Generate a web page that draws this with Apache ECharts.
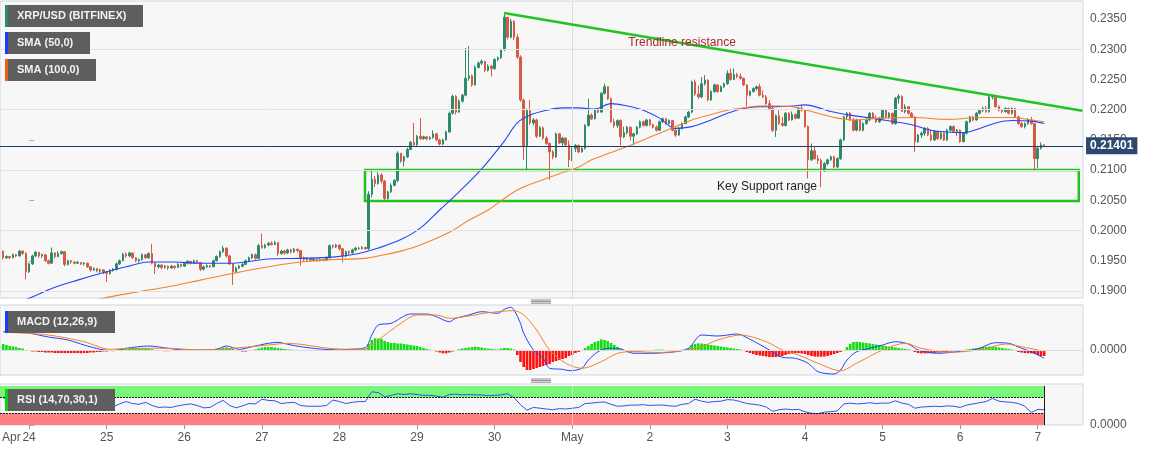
<!DOCTYPE html>
<html><head><meta charset="utf-8">
<script src="https://cdn.jsdelivr.net/npm/echarts@6/dist/echarts.min.js"></script>
<style>html,body{margin:0;padding:0;background:#fff}#c{width:1153px;height:452px}</style>
</head><body><div id="c"></div>
<script>
// ---------------- DATA (hourly XRP/USD, hour 0 = Apr 24 00:00) ----------------
const firstHour = -8;
const firstOpen = 0.1966;
const closes = [
 .1955,.1957,.1955,.1960,.1958,.1966,.1962,.1932,
 .1945,.1958,.1964,.1958,.1960,.1950,.1946,.1963,.1957,.1962,.1965,.1944,.1950,.1948,.1946,.1947,.1945,.1946,.1940,.1935,.1937,.1933,.1935,.1931,
 .1929,.1934,.1936,.1945,.1950,.1961,.1958,.1963,.1955,.1950,.1952,.1960,.1955,.1962,.1946,.1940,.1943,.1939,.1941,.1938,.1941,.1939,.1944,.1941,
 .1946,.1949,.1946,.1950,.1947,.1936,.1940,.1942,.1940,.1950,.1957,.1965,.1971,.1958,.1945,.1932,.1938,.1941,.1944,.1950,.1955,.1960,.1954,.1975,
 .1972,.1976,.1979,.1977,.1980,.1962,.1966,.1963,.1968,.1965,.1969,.1967,.1955,.1952,.1954,.1951,.1953,.1950,.1952,.1951,.1955,.1975,.1973,.1976,
 .1970,.1958,.1965,.1963,.1968,.1971,.1970,.1972,.1970,.2060,.2085,.2078,.2092,.2082,.2053,.2064,.2075,.2083,.2128,.2115,.2122,.2134,.2146,.2142,
 .2156,.2152,.2155,.2152,.2154,.2160,.2150,.2143,.2150,.2163,.2194,.2222,.2196,.2214,.2224,.2252,.2256,.2241,.2270,.2277,.2280,.2265,.2272,.2268,
 .2283,.2286,.2299,.2353,.2320,.2346,.2320,.2287,.2216,.2140,.2199,.2178,.2183,.2156,.2170,.2153,.2144,.2130,.2122,.2160,.2145,.2153,.2142,.2117,
 .2136,.2141,.2130,.2136,.2174,.2191,.2185,.2199,.2196,.2227,.2238,.2218,.2180,.2174,.2182,.2155,.2162,.2171,.2156,.2160,.2171,.2180,.2174,.2183,
 .2175,.2171,.2166,.2180,.2185,.2177,.2182,.2166,.2158,.2169,.2177,.2188,.2196,.2246,.2226,.2221,.2243,.2249,.2216,.2230,.2241,.2230,.2238,.2243,
 .2260,.2250,.2258,.2255,.2252,.2241,.2224,.2230,.2235,.2238,.2224,.2221,.2210,.2202,.2166,.2190,.2177,.2174,.2194,.2183,.2192,.2186,.2202,.2199,
 .2172,.2117,.2132,.2119,.2116,.2100,.2111,.2117,.2122,.2105,.2119,.2150,.2188,.2194,.2183,.2166,.2183,.2166,.2177,.2183,.2194,.2186,.2180,.2186,
 .2199,.2188,.2194,.2177,.2219,.2222,.2197,.2205,.2194,.2188,.2147,.2158,.2161,.2169,.2158,.2150,.2164,.2152,.2161,.2150,.2166,.2172,.2164,.2166,
 .2147,.2161,.2180,.2188,.2183,.2194,.2199,.2202,.2197,.2221,.2222,.2205,.2199,.2197,.2202,.2194,.2202,.2188,.2177,.2172,.2177,.2183,.2177,.2119,
 .2136,.2142,.2140
];
const highs = [
 .1967,.1959,.1958,.1962,.1961,.1968,.1967,.1964,
 .1947,.1960,.1966,.1965,.1962,.1961,.1952,.1972,.1964,.1966,.1967,.1966,.1952,.1951,.1949,.1950,.1948,.1948,.1947,.1941,.1939,.1938,.1937,.1936,
 .1933,.1936,.1938,.1947,.1952,.1963,.1964,.1965,.1963,.1956,.1954,.1962,.1961,.1964,.1978,.1948,.1945,.1944,.1943,.1942,.1943,.1942,.1946,.1945,
 .1948,.1951,.1950,.1952,.1951,.1948,.1942,.1944,.1943,.1952,.1959,.1967,.1975,.1972,.1960,.1946,.1940,.1943,.1946,.1952,.1957,.1962,.1962,.1978,
 .1995,.1978,.1981,.1982,.1983,.1981,.1968,.1968,.1970,.1970,.1971,.1970,.1968,.1957,.1956,.1955,.1955,.1954,.1954,.1953,.1957,.1977,.1977,.1978,
 .1977,.1971,.1967,.1967,.1970,.1973,.1973,.1974,.1973,.2065,.2100,.2090,.2097,.2095,.2084,.2066,.2078,.2085,.2131,.2127,.2124,.2137,.2148,.2178,
 .2158,.2186,.2157,.2156,.2156,.2166,.2162,.2152,.2152,.2165,.2197,.2225,.2224,.2217,.2226,.2302,.2305,.2258,.2273,.2280,.2283,.2281,.2275,.2274,
 .2285,.2288,.2301,.2358,.2352,.2350,.2348,.2325,.2290,.2218,.2202,.2216,.2186,.2185,.2173,.2172,.2156,.2146,.2133,.2162,.2161,.2155,.2154,.2149,
 .2138,.2143,.2142,.2138,.2176,.2218,.2194,.2201,.2200,.2229,.2243,.2239,.2220,.2185,.2184,.2184,.2172,.2173,.2172,.2162,.2173,.2182,.2182,.2185,
 .2185,.2177,.2174,.2182,.2187,.2186,.2184,.2183,.2170,.2171,.2179,.2190,.2198,.2248,.2250,.2240,.2254,.2257,.2250,.2232,.2243,.2241,.2240,.2245,
 .2265,.2268,.2268,.2261,.2260,.2253,.2242,.2232,.2237,.2240,.2243,.2232,.2224,.2216,.2207,.2192,.2199,.2188,.2196,.2196,.2197,.2194,.2204,.2208,
 .2201,.2174,.2144,.2139,.2125,.2119,.2113,.2119,.2124,.2124,.2121,.2152,.2190,.2196,.2196,.2186,.2185,.2183,.2179,.2185,.2196,.2196,.2191,.2188,
 .2201,.2200,.2196,.2195,.2221,.2226,.2224,.2209,.2206,.2196,.2190,.2160,.2164,.2171,.2171,.2167,.2166,.2165,.2163,.2162,.2168,.2174,.2174,.2168,
 .2167,.2163,.2182,.2190,.2190,.2196,.2201,.2205,.2206,.2224,.2225,.2223,.2207,.2201,.2204,.2203,.2204,.2203,.2190,.2180,.2179,.2186,.2188,.2178,
 .2140,.2146,.2142
];
const lows = [
 .1952,.1953,.1953,.1954,.1956,.1957,.1960,.1919,
 .1930,.1943,.1956,.1955,.1955,.1948,.1944,.1945,.1954,.1956,.1960,.1941,.1942,.1945,.1944,.1945,.1943,.1942,.1938,.1932,.1933,.1931,.1930,.1928,
 .1915,.1927,.1932,.1934,.1943,.1949,.1955,.1956,.1953,.1948,.1947,.1950,.1953,.1953,.1944,.1928,.1937,.1936,.1937,.1935,.1937,.1936,.1938,.1939,
 .1940,.1944,.1944,.1945,.1945,.1933,.1934,.1938,.1938,.1939,.1949,.1955,.1963,.1955,.1943,.1910,.1930,.1936,.1939,.1943,.1948,.1953,.1952,.1953,
 .1970,.1970,.1974,.1975,.1976,.1958,.1960,.1960,.1961,.1962,.1963,.1964,.1942,.1949,.1950,.1949,.1950,.1948,.1949,.1949,.1950,.1954,.1970,.1971,
 .1967,.1948,.1956,.1960,.1962,.1966,.1968,.1969,.1968,.1968,.2055,.2072,.2076,.2078,.2050,.2051,.2062,.2073,.2080,.2112,.2106,.2120,.2133,.2140,
 .2140,.2150,.2150,.2149,.2150,.2152,.2148,.2141,.2141,.2149,.2162,.2192,.2192,.2195,.2212,.2222,.2248,.2238,.2240,.2268,.2274,.2262,.2263,.2255,
 .2266,.2280,.2284,.2297,.2316,.2318,.2315,.2284,.2213,.2117,.2100,.2175,.2174,.2153,.2155,.2150,.2142,.2084,.2118,.2120,.2143,.2140,.2140,.2105,
 .2115,.2130,.2128,.2129,.2134,.2172,.2183,.2184,.2194,.2195,.2225,.2216,.2178,.2170,.2170,.2141,.2153,.2159,.2149,.2141,.2158,.2169,.2172,.2172,
 .2173,.2169,.2164,.2165,.2178,.2175,.2176,.2164,.2155,.2157,.2167,.2176,.2186,.2194,.2223,.2218,.2219,.2240,.2214,.2215,.2228,.2228,.2229,.2236,
 .2241,.2248,.2249,.2252,.2250,.2239,.2205,.2222,.2228,.2232,.2222,.2219,.2208,.2200,.2163,.2155,.2175,.2172,.2172,.2181,.2182,.2184,.2185,.2197,
 .2170,.2086,.2115,.2117,.2110,.2072,.2097,.2108,.2115,.2103,.2104,.2117,.2148,.2183,.2181,.2164,.2164,.2164,.2164,.2175,.2181,.2184,.2178,.2178,
 .2184,.2186,.2185,.2175,.2175,.2210,.2197,.2194,.2192,.2186,.2130,.2145,.2153,.2157,.2156,.2148,.2148,.2150,.2150,.2148,.2148,.2164,.2162,.2157,
 .2145,.2146,.2159,.2178,.2181,.2182,.2192,.2196,.2195,.2195,.2217,.2203,.2197,.2194,.2195,.2192,.2192,.2186,.2175,.2170,.2169,.2175,.2175,.2100,
 .2103,.2134,.2138
];
const lastPrice = 0.21401;

// moving averages (read at these hours)
const sma50Hours = [-6,0,7,15,22,30,37,45,53,63,74,84,94,102,108,115,121,127,133,140,147,151,155,160,165,170,175,180,185,190,195,200,205,211,216,221,226,231,236,240,245,248,254,263,273,279,284,289,294,299,304,310,314];
const sma50 = [.1876,.1888,.1904,.1918,.1929,.1940,.1948,.1948,.1946,.1946,.1953,.1954,.1956,.1962,.1971,.1985,.2004,.2034,.2064,.2102,.2148,.2178,.2191,.2199,.2203,.2203,.2201,.2210,.2206,.2199,.2186,.2169,.2172,.2183,.2194,.2202,.2205,.2205,.2206,.2208,.2202,.2197,.2191,.2184,.2175,.2166,.2163,.2162,.2169,.2178,.2182,.2181,.2177];
const sma100Hours = [15,23,33,43,53,63,74,84,94,104,109,115,121,130,136,142,151,160,164,170,174,180,185,190,195,200,205,211,216,221,226,232,236,242,250,255,263,274,284,294,304,310,314];
const sma100 = [.1876,.1888,.1898,.1907,.1918,.1929,.1940,.1948,.1952,.1954,.1959,.1966,.1976,.1997,.2017,.2034,.2067,.2086,.2094,.2105,.2117,.2129,.2139,.2150,.2161,.2172,.2183,.2192,.2199,.2203,.2206,.2206,.2205,.2197,.2186,.2183,.2186,.2187,.2184,.2187,.2187,.2183,.2180];

// MACD (12,26,9), values in units of 0.0001
const macdHours = [-8,-6,-3,0,6,12,17,22,26,30,37,43,48,53,58,61,65,69,74,77,80,84,90,96,99,104,106,108,112,118,123,126,130,132,136,140,145,147,149,150,152,153,156,159,161,165,167,171,173,176,179,182,187,192,200,204,208,213,219,223,229,233,237,241,244,249,251,253,256,260,264,268,272,275,281,287,293,299,303,307,310,314];
const macdLine = [18,20,19,17,13,10,5,0.7,-0.7,1.7,4,1.7,0,0,0.7,4,0.7,3.3,6.7,7.7,5.7,3.3,1,0,0.7,2.3,15,25,26.7,36,36,33.3,28.3,31.7,35,38.3,36.7,40.7,42.7,40,26.7,16.7,0,-8.3,-18.3,-19.3,-20.7,-18.3,-10,-1.7,1.7,1.7,-3.3,-3.3,-1.7,1.7,15,14,16,10.7,0,-7.3,-8.3,-13.3,-21.7,-24,-20,-10,-1.7,1.7,5,8.3,6,0,-3.3,-1.7,0.7,7.3,6.7,1.7,-1.7,-8.3];
const signalHours = [-8,-3,6,17,25,32,43,53,63,74,80,84,92,99,104,108,115,120,126,130,136,142,150,153,157,161,166,171,177,182,187,195,202,208,213,220,228,233,238,244,251,256,264,271,276,285,295,302,307,312,314];
const signalLine = [18,17,15,8.3,0.7,1.7,1.7,0,1.7,5,6.7,5.7,2,0.7,1,10,26.7,35,35,31.7,34,37.3,39.3,35,20,0,-13.3,-18.3,-11.7,-3.3,-1.7,-2.5,-0.7,3.3,10,15,8.3,0,-5,-13.3,-20.7,-13.3,0,6.7,1.7,-2.3,0.7,6,3.3,0,-2];
const macdHist = [
 6,5,4,3.5,3,2,1.5,
 -1,-1,-1.5,-1.5,-2,-2,-2.5,-2.5,-2.5,-3,-3,-3,-3,-3,-3,-3,-3,-3.3,-3,-3,-2.5,-2.5,-2,-2,-1.5,-1.5,-1,-0.5,
 0.5,1,1.5,2,2,2,2,1.8,1.5,1.5,1.2,0.8,
 -0.5,-1,-1,-1.2,-1.2,-1,-1,-0.8,-0.5,-0.3,
 0.2,0.2,-0.2,-0.3,-0.5,-0.3,0.2,0.5,
 1,1.5,2,2.5,2.5,2,1,
 -0.5,-1,-1.5,-1.5,-1,-0.5,
 0.5,1.5,2.5,3,3,3,2.5,2,1.5,
 1,0.5,0.3,-0.3,-0.5,-1,-1,-1,
 -1,-1,-1,-1,-0.8,-0.5,0.5,0.5,0.3,0,-0.3,0,
 0.3,0.5,0.5,0.5,0.5,0.8,
 6,10,11.7,11.5,11,9,8,7,7,6.5,6.5,6,5.5,5,4.5,4,3,2,1,0.3,
 -0.5,-1.5,-2.5,-3.3,-3.3,-2.5,-1.5,-0.5,
 0.8,1.5,2,2.5,3,3.3,3,2.5,2,1.5,1,
 0.5,0.5,1.5,2,2,1.5,0.5,
 -5,-12,-17,-20,-20,-19,-18,-17,-16,-15,-14,-12,-11,-10,-9,-8,-6,-5,-3,-2,-1,
 2,4,6,8,9,10.7,10,9,7,5,3,1,
 -1,-1.5,-1.7,-1.7,-1.5,-1.5,-1,-1,-0.5,-0.5,0.3,0.5,0.3,-0.5,-0.5,-1,-1,-0.5,0.3,0.5,
 2,5,6,6.7,6.5,6,5.5,5,4.5,4,3.5,3,2.5,2,1.5,1,0.5,
 -1,-2,-3,-4,-5,-5.5,-6,-6.5,-7,-7,-7,-6.5,-6,-5,-4,-3.5,-3,-3,-3.5,
 -4,-5,-6,-6.5,-6.7,-6.7,-6.5,-6,-5,-4,-3,-2,-0.5,
 3,6,8,8.3,8,7.5,7,6.5,6,5.5,5,4.5,4,3.5,3,2.5,2,1.5,1,0.5,
 -1,-2,-3,-3.3,-3.3,-3.3,-3,-3,-2.5,-2.5,-2,-2,-1.5,-1,-1,-0.5,-0.3,
 0.5,1,1.5,2,2.5,3,3.3,3.3,3,3,2.5,2,1.5,1,0.5,
 -1,-2,-2.5,-3,-3.3,-3.3,-4,-5,-6,-6
];

// RSI (14), one reading every 2 hours starting at firstHour
const rsiStep = 2;
const rsi = [70,62,60,58,
 45,60,55,50,57,58,46,47,46,44,42,43,
 40,47,54,60,55,53,58,50,45,46,45,49,
 52,54,50,44,45,55,63,50,44,49,55,54,
 66,63,62,55,57,58,50,48,48,48,50,64,
 60,55,58,60,60,85,83,72,76,80,78,80,
 78,76,76,74,71,78,79,77,78,77,77,75,
 76,77,80,70,52,38,45,43,41,39,42,41,
 43,45,55,56,58,59,53,48,49,51,51,52,
 50,51,51,49,48,53,55,66,61,58,60,61,
 65,64,60,55,53,51,46,35,39,41,39,40,
 34,30,29,33,34,36,54,56,54,55,57,55,
 56,56,62,56,53,43,46,47,48,47,49,48,
 45,51,54,57,60,68,61,59,58,55,48,32,
 40,39];
const rsiUpper = 70, rsiLower = 30;

// annotations
const trendline = [[146.9, 0.2360], [325.8, 0.21983]];
const supportZone = {from: 103.9, to: 324.7, low: 0.2049, high: 0.2100};
const monthStartHour = 168;

// axes
const priceTicks = [0.190,0.195,0.200,0.205,0.210,0.215,0.220,0.225,0.230,0.235];
const dayTicks = [0,24,48,72,96,120,144,168,192,216,240,264,288,312];
const dayLabels = ['24','25','26','27','28','29','30','May','2','3','4','5','6','7'];

// ---------------- CHART ----------------
const UP = '#2e8b6a', DOWN = '#d65a46', BLUE = '#1f45fc', ORANGE = '#f5822a';
const FONT = '"Liberation Sans", Arial, sans-serif';
const X_MIN = -9, X_MAX = 326;
const NO_LABEL = {show: false};

const candles = closes.map((c, i) => {
  const o = i === 0 ? firstOpen : closes[i - 1];
  return [firstHour + i, o, c, Math.min(lows[i], o, c), Math.max(highs[i], o, c)];
});
const pairs = (hs, vs) => hs.map((h, i) => [h, vs[i]]);
const histData = macdHist.map((v, i) => [firstHour + i, v]);
const rsiData = rsi.map((v, i) => [firstHour + i * rsiStep, v]);
const lastRsiHour = firstHour + (rsi.length - 1) * rsiStep;

const gridBase = {left: 0, width: 1083, show: true, backgroundColor: '#f7f7f7', borderColor: '#cfd5e4', borderWidth: 1};
const hiddenX = i => ({type: 'value', gridIndex: i, min: X_MIN, max: X_MAX, show: false});

function legendBox(x, y, w, strip, text) {
  return [
    {type: 'rect', z: 100, shape: {x: x, y: y, width: w, height: 22}, style: {fill: '#5e5e5e'}},
    {type: 'rect', z: 101, shape: {x: x, y: y, width: 3, height: 22}, style: {fill: strip}},
    {type: 'text', z: 102, x: x + 12, y: y + 11, style: {text: text, fill: '#f2f2f2', font: 'bold 11px ' + FONT, align: 'left', verticalAlign: 'middle', textAlign: 'left', textVerticalAlign: 'middle'}}
  ];
}
function grip(y) {
  return [0, 1.6, 3.2].map(d => ({type: 'line', z: 100, shape: {x1: 531, y1: y + d, x2: 551, y2: y + d}, style: {stroke: '#8a8a8a', lineWidth: 1}}));
}

const option = {
  animation: false,
  backgroundColor: '#ffffff',
  textStyle: {fontFamily: FONT},
  grid: [
    Object.assign({top: 1, height: 297}, gridBase),
    Object.assign({top: 305, height: 70}, gridBase),
    Object.assign({top: 384, height: 41}, gridBase)
  ],
  xAxis: [
    hiddenX(0), hiddenX(1),
    {type: 'value', gridIndex: 2, min: X_MIN, max: X_MAX,
     axisLine: {show: false}, splitLine: {show: false},
     axisTick: {show: true, customValues: dayTicks, length: 4, lineStyle: {color: '#9a9a9a'}},
     axisLabel: {customValues: dayTicks, color: '#555', fontSize: 12, fontFamily: FONT, margin: 7,
       formatter: v => dayLabels[Math.round(v / 24)]}}
  ],
  yAxis: [
    {type: 'value', gridIndex: 0, position: 'right', min: 0.18884, max: 0.23798,
     axisLine: {show: false},
     axisTick: {show: true, customValues: priceTicks, length: 5, lineStyle: {color: '#aaaaaa'}},
     axisLabel: {customValues: priceTicks, color: '#555', fontSize: 12, fontFamily: FONT, margin: 7, formatter: v => v.toFixed(4)},
     splitLine: {show: false}},
    {type: 'value', gridIndex: 1, position: 'right', min: -25, max: 45,
     axisLine: {show: false},
     axisTick: {show: true, customValues: [0], length: 5, lineStyle: {color: '#aaaaaa'}},
     axisLabel: {customValues: [0], color: '#555', fontSize: 12, fontFamily: FONT, margin: 7, formatter: () => '0.0000'},
     splitLine: {show: false}},
    {type: 'value', gridIndex: 2, position: 'right', min: 0, max: 105,
     axisLine: {show: false},
     axisTick: {show: true, customValues: [0], length: 5, lineStyle: {color: '#aaaaaa'}},
     axisLabel: {customValues: [0], color: '#555', fontSize: 12, fontFamily: FONT, margin: 7, formatter: () => '0.0000'},
     splitLine: {show: false}}
  ],
  series: [
    // background guide lines (horizontal price grid + month separator), drawn beneath everything
    {type: 'line', xAxisIndex: 0, yAxisIndex: 0, data: [], z: 1, silent: true,
     markLine: {symbol: ['none', 'none'], silent: true, animation: false, label: NO_LABEL, emphasis: {label: NO_LABEL},
       data: priceTicks.map(v => ({yAxis: v, lineStyle: {color: '#e3e3e3', width: 1, type: 'solid'}}))
         .concat([{xAxis: monthStartHour, lineStyle: {color: '#dddddd', width: 1, type: 'solid'}}])}},
    {type: 'line', xAxisIndex: 1, yAxisIndex: 1, data: [], z: 1, silent: true,
     markLine: {symbol: ['none', 'none'], silent: true, animation: false, label: NO_LABEL, emphasis: {label: NO_LABEL},
       data: [{yAxis: 0, lineStyle: {color: '#dcdcdc', width: 1, type: 'solid'}},
              {xAxis: monthStartHour, lineStyle: {color: '#dddddd', width: 1, type: 'solid'}}]}},

    {type: 'candlestick', name: 'XRP/USD', xAxisIndex: 0, yAxisIndex: 0, data: candles,
     encode: {x: 0, y: [1, 2, 3, 4]}, barWidth: 2, z: 2,
     itemStyle: {color: UP, color0: DOWN, borderColor: UP, borderColor0: DOWN, borderWidth: 1},
     markArea: {silent: true, animation: false, label: NO_LABEL, emphasis: {label: NO_LABEL},
       itemStyle: {color: 'rgba(0,0,0,0)', borderColor: '#1ec31e', borderWidth: 2.5},
       data: [[{coord: [supportZone.from, supportZone.high]}, {coord: [supportZone.to, supportZone.low]}]]}},
    {type: 'line', name: 'SMA 50', xAxisIndex: 0, yAxisIndex: 0, data: pairs(sma50Hours, sma50), smooth: 0.35,
     showSymbol: false, z: 3, lineStyle: {color: BLUE, width: 1.1},
     markLine: {symbol: ['none', 'none'], silent: true, animation: false, label: NO_LABEL, emphasis: {label: NO_LABEL}, z: 20,
       data: [
         [{coord: [X_MIN, lastPrice], lineStyle: {color: '#203c63', width: 1, type: 'solid'},
           label: {show: true, position: 'end', distance: 3, formatter: lastPrice.toFixed(5),
             color: '#fff', fontWeight: 'bold', fontSize: 12, fontFamily: FONT, backgroundColor: '#2c4a70', padding: [3, 4, 2, 4]}},
          {coord: [X_MAX, lastPrice]}],
         [{coord: trendline[0], lineStyle: {color: '#22c322', width: 2.5, type: 'solid'}}, {coord: trendline[1]}]
       ]}},
    {type: 'line', name: 'SMA 100', xAxisIndex: 0, yAxisIndex: 0, data: pairs(sma100Hours, sma100), smooth: 0.35,
     showSymbol: false, z: 3, lineStyle: {color: ORANGE, width: 1.1}},

    {type: 'bar', name: 'MACD hist', xAxisIndex: 1, yAxisIndex: 1, data: histData, barWidth: 2.6, z: 2,
     itemStyle: {color: p => p.value[1] >= 0 ? '#10e010' : '#ff1010'}},
    {type: 'line', name: 'MACD', xAxisIndex: 1, yAxisIndex: 1, data: pairs(macdHours, macdLine), smooth: 0.3,
     showSymbol: false, z: 3, lineStyle: {color: BLUE, width: 1}},
    {type: 'line', name: 'Signal', xAxisIndex: 1, yAxisIndex: 1, data: pairs(signalHours, signalLine), smooth: 0.3,
     showSymbol: false, z: 3, lineStyle: {color: ORANGE, width: 1}},

    {type: 'line', name: 'RSI', xAxisIndex: 2, yAxisIndex: 2, data: rsiData, showSymbol: false, z: 3,
     lineStyle: {color: '#3050ee', width: 1},
     markArea: {silent: true, animation: false, label: NO_LABEL, emphasis: {label: NO_LABEL},
       data: [
         [{coord: [X_MIN, rsiUpper], itemStyle: {color: '#7af77a'}}, {coord: [lastRsiHour, 100]}],
         [{coord: [X_MIN, 0], itemStyle: {color: '#ff8080'}}, {coord: [lastRsiHour, rsiLower]}]
       ]},
     markLine: {symbol: ['none', 'none'], silent: true, animation: false, label: NO_LABEL, emphasis: {label: NO_LABEL},
       data: [
         {xAxis: monthStartHour, lineStyle: {color: 'rgba(255,255,255,0.45)', width: 1, type: 'solid'}},
         [{coord: [X_MIN, rsiUpper], lineStyle: {color: '#1a1a1a', width: 1, type: [2, 1]}}, {coord: [lastRsiHour, rsiUpper]}],
         [{coord: [X_MIN, rsiLower], lineStyle: {color: '#1a1a1a', width: 1, type: [2, 1]}}, {coord: [lastRsiHour, rsiLower]}],
         [{coord: [lastRsiHour, 0], lineStyle: {color: '#1a1a1a', width: 1, type: 'solid'}}, {coord: [lastRsiHour, 100]}]
       ]}}
  ],
  graphic: [].concat(
    legendBox(5, 5, 138, UP, 'XRP/USD (BITFINEX)'),
    legendBox(5, 32, 85, '#1a3cff', 'SMA (50,0)'),
    legendBox(5, 59, 91, '#ee6010', 'SMA (100,0)'),
    legendBox(5, 311, 110, '#1a3cff', 'MACD (12,26,9)'),
    legendBox(5, 389, 110, '#10d010', 'RSI (14,70,30,1)'),
    grip(300), grip(379),
    [
      {type: 'text', z: 100, x: 682, y: 43, style: {text: 'Trendline resistance', fill: '#a52a2a', font: '12px ' + FONT, align: 'center', verticalAlign: 'middle', textAlign: 'center', textVerticalAlign: 'middle'}},
      {type: 'text', z: 100, x: 767, y: 187, style: {text: 'Key Support range', fill: '#222', font: '12px ' + FONT, align: 'center', verticalAlign: 'middle', textAlign: 'center', textVerticalAlign: 'middle'}},
      {type: 'text', z: 100, x: 2, y: 438, style: {text: 'Apr', fill: '#555', font: '12px ' + FONT, align: 'left', verticalAlign: 'middle', textAlign: 'left', textVerticalAlign: 'middle'}}
    ]
  )
};

const chart = echarts.init(document.getElementById('c'), null, {renderer: 'canvas'});
chart.setOption(option);
</script>
</body></html>
